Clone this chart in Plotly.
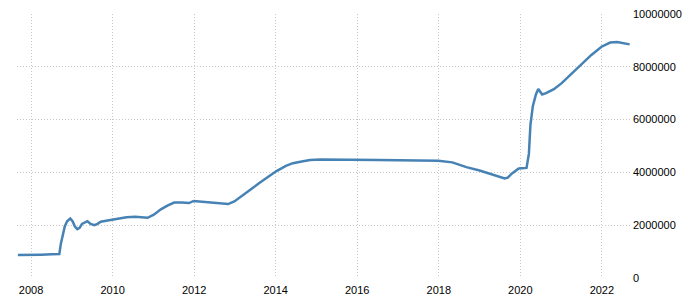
import plotly.graph_objects as go

dates = ["2007-09-05","2007-12-26","2008-04-02","2008-07-02","2008-09-10","2008-09-24",
         "2008-10-08","2008-10-29","2008-11-19","2008-12-17","2009-01-07","2009-01-28",
         "2009-02-18","2009-03-11","2009-04-01","2009-04-29","2009-05-20","2009-06-17",
         "2009-07-22","2009-08-19","2009-09-16","2009-11-04","2010-01-06","2010-03-03",
         "2010-05-05","2010-07-21","2010-09-15","2010-11-10","2011-01-05","2011-03-09",
         "2011-05-11","2011-07-06","2011-09-14","2011-11-16","2011-12-28","2012-02-22",
         "2012-05-02","2012-08-08","2012-10-31","2012-12-26","2013-03-06","2013-05-15",
         "2013-08-07","2013-10-30","2014-01-08","2014-04-02","2014-06-04","2014-09-03",
         "2014-11-05","2015-02-04","2015-06-03","2016-01-06","2016-07-06","2017-01-04",
         "2017-07-05","2017-12-27","2018-05-02","2018-09-05","2019-01-02","2019-05-01",
         "2019-08-14","2019-09-11","2019-10-16","2019-12-18","2020-02-26","2020-03-18",
         "2020-04-01","2020-04-22","2020-05-20","2020-06-10","2020-07-15","2020-08-19",
         "2020-10-28","2021-01-06","2021-04-07","2021-06-30","2021-09-29","2021-12-29",
         "2022-03-16","2022-05-18","2022-07-20","2022-09-07"]
values = [870000,890000,885000,895000,905000,1300000,
          1600000,1950000,2150000,2250000,2150000,1950000,
          1850000,1900000,2050000,2100000,2150000,2050000,
          2000000,2050000,2130000,2170000,2220000,2260000,
          2300000,2320000,2300000,2280000,2400000,2600000,
          2750000,2860000,2860000,2840000,2920000,2900000,
          2860000,2820000,2800000,2900000,3100000,3330000,
          3600000,3850000,4050000,4250000,4350000,4420000,
          4470000,4490000,4480000,4480000,4470000,4460000,
          4460000,4440000,4380000,4200000,4070000,3920000,
          3770000,3800000,3950000,4150000,4170000,4700000,
          5800000,6500000,6950000,7160000,6950000,7000000,
          7150000,7380000,7750000,8100000,8450000,8760000,
          8920000,8940000,8890000,8850000]

ytick_vals = [0, 2000000, 4000000, 6000000, 8000000, 10000000]
ytick_text = ["0", "2000000", "4000000", "6000000", "8000000", "10000000"]
xtick_vals = ["2008-01-01","2010-01-01","2012-01-01","2014-01-01","2016-01-01",
              "2018-01-01","2020-01-01","2022-01-01"]
xtick_text = ["2008","2010","2012","2014","2016","2018","2020","2022"]

fig = go.Figure(go.Scatter(x=dates, y=values, mode="lines",
                           line=dict(color="#4682b4", width=2.5),
                           hoverinfo="skip"))

fig.update_layout(
    width=689, height=307,
    margin=dict(l=17, r=59, t=14, b=29),
    paper_bgcolor="white", plot_bgcolor="white",
    showlegend=False,
    font=dict(family="Liberation Sans", size=11, color="#000"),
)
fig.update_xaxes(
    type="date", range=["2007-08-28", "2022-09-10"], automargin=False,
    tickvals=xtick_vals, ticktext=xtick_text,
    showgrid=True, gridcolor="#c8c8c8", griddash="1px,2px", gridwidth=1,
    zeroline=False, showline=False, ticks="", ticklabelstandoff=4,
)
fig.update_yaxes(
    range=[0, 10000000], side="right", automargin=False,
    tickvals=ytick_vals, ticktext=ytick_text,
    showgrid=True, gridcolor="#c8c8c8", griddash="1px,2px", gridwidth=1,
    zeroline=False, showline=False, ticks="", ticklabelstandoff=2,
)

fig.write_html("out.html")
